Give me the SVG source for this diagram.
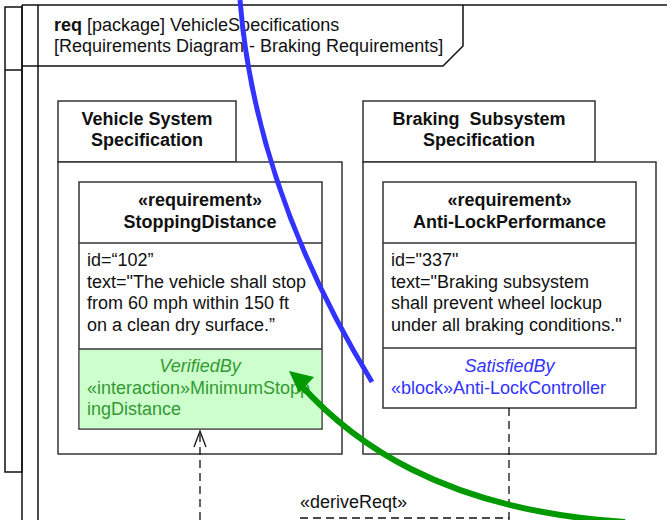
<svg xmlns="http://www.w3.org/2000/svg" width="667" height="520" viewBox="0 0 667 520">
<style>
text{font-family:"Liberation Sans",Arial,sans-serif;font-size:18px;fill:#111}
.b{font-weight:bold}
.c{text-anchor:middle}
.frame{fill:none;stroke:#111;stroke-width:1.5}
.box{fill:#fff;stroke:#333;stroke-width:1.5}
.div{stroke:#333;stroke-width:1.5}
.gt{fill:#339933}
.bt{fill:#3333ff}
.dash{fill:none;stroke:#111;stroke-width:1.3;stroke-dasharray:8 5}
</style>
<defs>
<marker id="open" markerWidth="14" markerHeight="20" refX="7" refY="1" orient="auto" markerUnits="userSpaceOnUse"/>
</defs>
<rect width="667" height="520" fill="#fff"/>
<g id="frame">
<rect class="frame" x="5" y="7" width="17" height="465"/>
<line class="frame" x1="5" y1="70" x2="22" y2="70"/>
<line class="frame" x1="22" y1="5" x2="22" y2="520"/>
<line class="frame" x1="38" y1="5" x2="38" y2="520"/>
<line class="frame" x1="22" y1="5" x2="667" y2="5"/>
<polyline class="frame" points="22,66 443,66 463,46 463,5"/>
<text x="54" y="31"><tspan class="b">req</tspan> [package] VehicleSpecifications</text>
<text x="54" y="52">[Requirements Diagram - Braking Requirements]</text>
</g>
<g id="vehicle-system-specification">
<rect class="box" x="58" y="101" width="178" height="61"/>
<rect class="box" x="58" y="162" width="284" height="292"/>
<text class="b c" x="147" y="125">Vehicle System</text>
<text class="b c" x="147" y="146">Specification</text>
</g>
<g id="stopping-distance">
<rect class="box" x="79" y="182" width="243" height="247"/>
<rect x="79.75" y="349" width="241.5" height="79.25" fill="#ccffcc"/>
<line class="div" x1="79" y1="243" x2="322" y2="243"/>
<line class="div" x1="79" y1="349" x2="322" y2="349"/>
<text class="b c" x="200" y="206">«requirement»</text>
<text class="b c" x="200" y="228">StoppingDistance</text>
<text x="87" y="266">id=“102”</text>
<text x="87" y="287.5">text="The vehicle shall stop</text>
<text x="87" y="309">from 60 mph within 150 ft</text>
<text x="87" y="330.5">on a clean dry surface.”</text>
<text class="gt c" x="200" y="372" font-style="italic">VerifiedBy</text>
<text class="gt" x="87" y="394">«interaction»MinimumStopp</text>
<text class="gt" x="87" y="415">ingDistance</text>
</g>
<g id="braking-subsystem-specification">
<rect class="box" x="363" y="101" width="232" height="61"/>
<rect class="box" x="363" y="162" width="293" height="292"/>
<text class="b c" x="479" y="125" xml:space="preserve">Braking  Subsystem</text>
<text class="b c" x="479" y="146">Specification</text>
</g>
<g id="anti-lock-performance">
<rect class="box" x="383" y="182" width="253" height="226"/>
<line class="div" x1="383" y1="243" x2="636" y2="243"/>
<line class="div" x1="383" y1="348" x2="636" y2="348"/>
<text class="b c" x="509.5" y="206">«requirement»</text>
<text class="b c" x="509.5" y="228">Anti-LockPerformance</text>
<text x="391" y="266">id="337"</text>
<text x="391" y="287.5">text="Braking subsystem</text>
<text x="391" y="309">shall prevent wheel lockup</text>
<text x="391" y="330.5">under all braking conditions."</text>
<text class="bt c" x="509.5" y="372" font-style="italic">SatisfiedBy</text>
<text class="bt" x="391" y="394">«block»Anti-LockController</text>
</g>
<g id="connectors">
<line class="dash" x1="200" y1="520" x2="200" y2="433"/>
<polyline points="194,447 200,431 206,447" fill="none" stroke="#111" stroke-width="1.3"/>
<line class="dash" x1="509" y1="408" x2="509" y2="520" stroke-dasharray="7 4"/>
<line class="dash" x1="300" y1="518" x2="509" y2="518" stroke-dasharray="7 4"/>
<text x="300" y="508">«deriveReqt»</text>
<path d="M240,0 Q255,190 372,382" fill="none" stroke="#3333ff" stroke-width="5"/>
<path d="M300,384 C350,440 440,510 625,522" fill="none" stroke="#009900" stroke-width="6"/>
<polygon points="289,371 314,377 299,393" fill="#009900"/>
</g>
</svg>
